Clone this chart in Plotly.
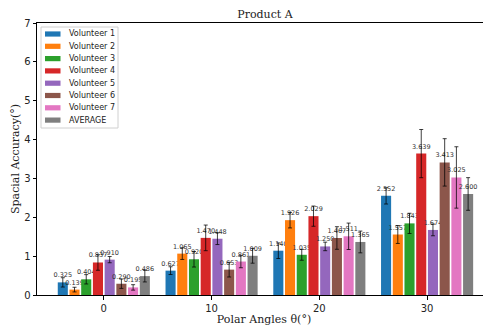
import plotly.graph_objects as go

angles = [0, 10, 20, 30]
series_names = ["Volunteer 1", "Volunteer 2", "Volunteer 3", "Volunteer 4",
                "Volunteer 5", "Volunteer 6", "Volunteer 7", "AVERAGE"]
values = [
    [0.325, 0.627, 1.140, 2.552],
    [0.139, 1.065, 1.926, 1.557],
    [0.404, 0.920, 1.035, 1.843],
    [0.837, 1.470, 2.029, 3.639],
    [0.910, 1.448, 1.250, 1.674],
    [0.290, 0.653, 1.467, 3.413],
    [0.195, 0.861, 1.511, 3.025],
    [0.486, 1.009, 1.365, 2.600],
]
errors = [
    [0.12, 0.10, 0.20, 0.21],
    [0.06, 0.15, 0.20, 0.23],
    [0.12, 0.20, 0.14, 0.26],
    [0.20, 0.33, 0.26, 0.62],
    [0.08, 0.15, 0.11, 0.15],
    [0.12, 0.19, 0.29, 0.61],
    [0.07, 0.16, 0.34, 0.79],
    [0.15, 0.19, 0.28, 0.42],
]
colors = ["#1f77b4", "#ff7f0e", "#2ca02c", "#d62728",
          "#9467bd", "#8c564b", "#e377c2", "#7f7f7f"]

# page body has an 8px margin, so the figure is drawn 8px smaller and offset
OFF = 8
W, H = 491 - OFF, 329 - OFF
ML, MR, MT, MB = 37 - OFF, 0, 23 - OFF, 34
PW, PH = W - ML - MR, H - MT - MB

fig = go.Figure()
for name, vals, errs, col in zip(series_names, values, errors, colors):
    fig.add_trace(go.Bar(
        x=angles, y=vals, name=name, showlegend=False,
        marker=dict(color=col, line=dict(width=0)),
        error_y=dict(type="data", array=errs, visible=True,
                     color="rgba(0,0,0,0.75)", thickness=1, width=2),
        text=[f"{v:.3f}" for v in vals],
        textposition="outside",
        constraintext="none",
        cliponaxis=False,
        textfont=dict(family="DejaVu Sans", size=6.5, color="#333333"),
    ))

# compact legend (matplotlib-like), positioned in screen pixels
def px_x(px):
    return (px - OFF - ML) / PW

def px_y(py):
    return 1 - (py - OFF - MT) / PH

shapes = [dict(type="rect", xref="paper", yref="paper",
               x0=px_x(41), x1=px_x(118), y0=px_y(128), y1=px_y(27),
               fillcolor="rgba(255,255,255,0.85)", line=dict(color="#d0d0d0", width=1),
               layer="above")]
annotations = []
for i, (name, col) in enumerate(zip(series_names, colors)):
    cy = 34 + i * 12.3
    shapes.append(dict(type="rect", xref="paper", yref="paper",
                       x0=px_x(45), x1=px_x(60.5), y0=px_y(cy + 2.6), y1=px_y(cy - 2.6),
                       fillcolor=col, line=dict(width=0), layer="above"))
    annotations.append(dict(text=name, xref="paper", yref="paper",
                            x=px_x(67), y=px_y(cy), xanchor="left", yanchor="middle",
                            showarrow=False,
                            font=dict(family="DejaVu Sans", size=8, color="#222222")))

fig.update_layout(
    width=W, height=H,
    margin=dict(l=ML, r=MR, t=MT, b=MB),
    paper_bgcolor="white", plot_bgcolor="white",
    barmode="group", bargap=0.13, bargroupgap=0.14,
    font=dict(family="DejaVu Sans", size=10, color="black"),
    title=dict(text="Product A", x=(265 - OFF) / W, xanchor="center",
               y=1 - (14 - OFF) / H, yanchor="middle",
               font=dict(family="DejaVu Serif", size=11, color="#222222")),
    shapes=shapes, annotations=annotations,
    showlegend=False,
)
fig.update_xaxes(
    range=[-6.2, 35.93], tickmode="array", tickvals=angles,
    ticktext=[str(a) for a in angles], automargin=False,
    showline=True, linecolor="black", linewidth=1, mirror=True,
    ticks="outside", ticklen=3.5, tickcolor="black",
    showgrid=False, zeroline=False,
    tickfont=dict(family="DejaVu Sans", size=10, color="#222222"),
    title=dict(text="Polar Angles θ(°)", standoff=0,
               font=dict(family="DejaVu Serif", size=11, color="#222222")),
)
fig.update_yaxes(
    range=[0, 7], tickvals=list(range(8)), automargin=False,
    showline=True, linecolor="black", linewidth=1,
    ticks="outside", ticklen=3.5, tickcolor="black",
    showgrid=False, zeroline=False,
    tickfont=dict(family="DejaVu Sans", size=10, color="#222222"),
    title=dict(text="Spacial Accuracy(°)", standoff=2,
               font=dict(family="DejaVu Serif", size=11, color="#222222")),
)

fig.write_html("out.html")
